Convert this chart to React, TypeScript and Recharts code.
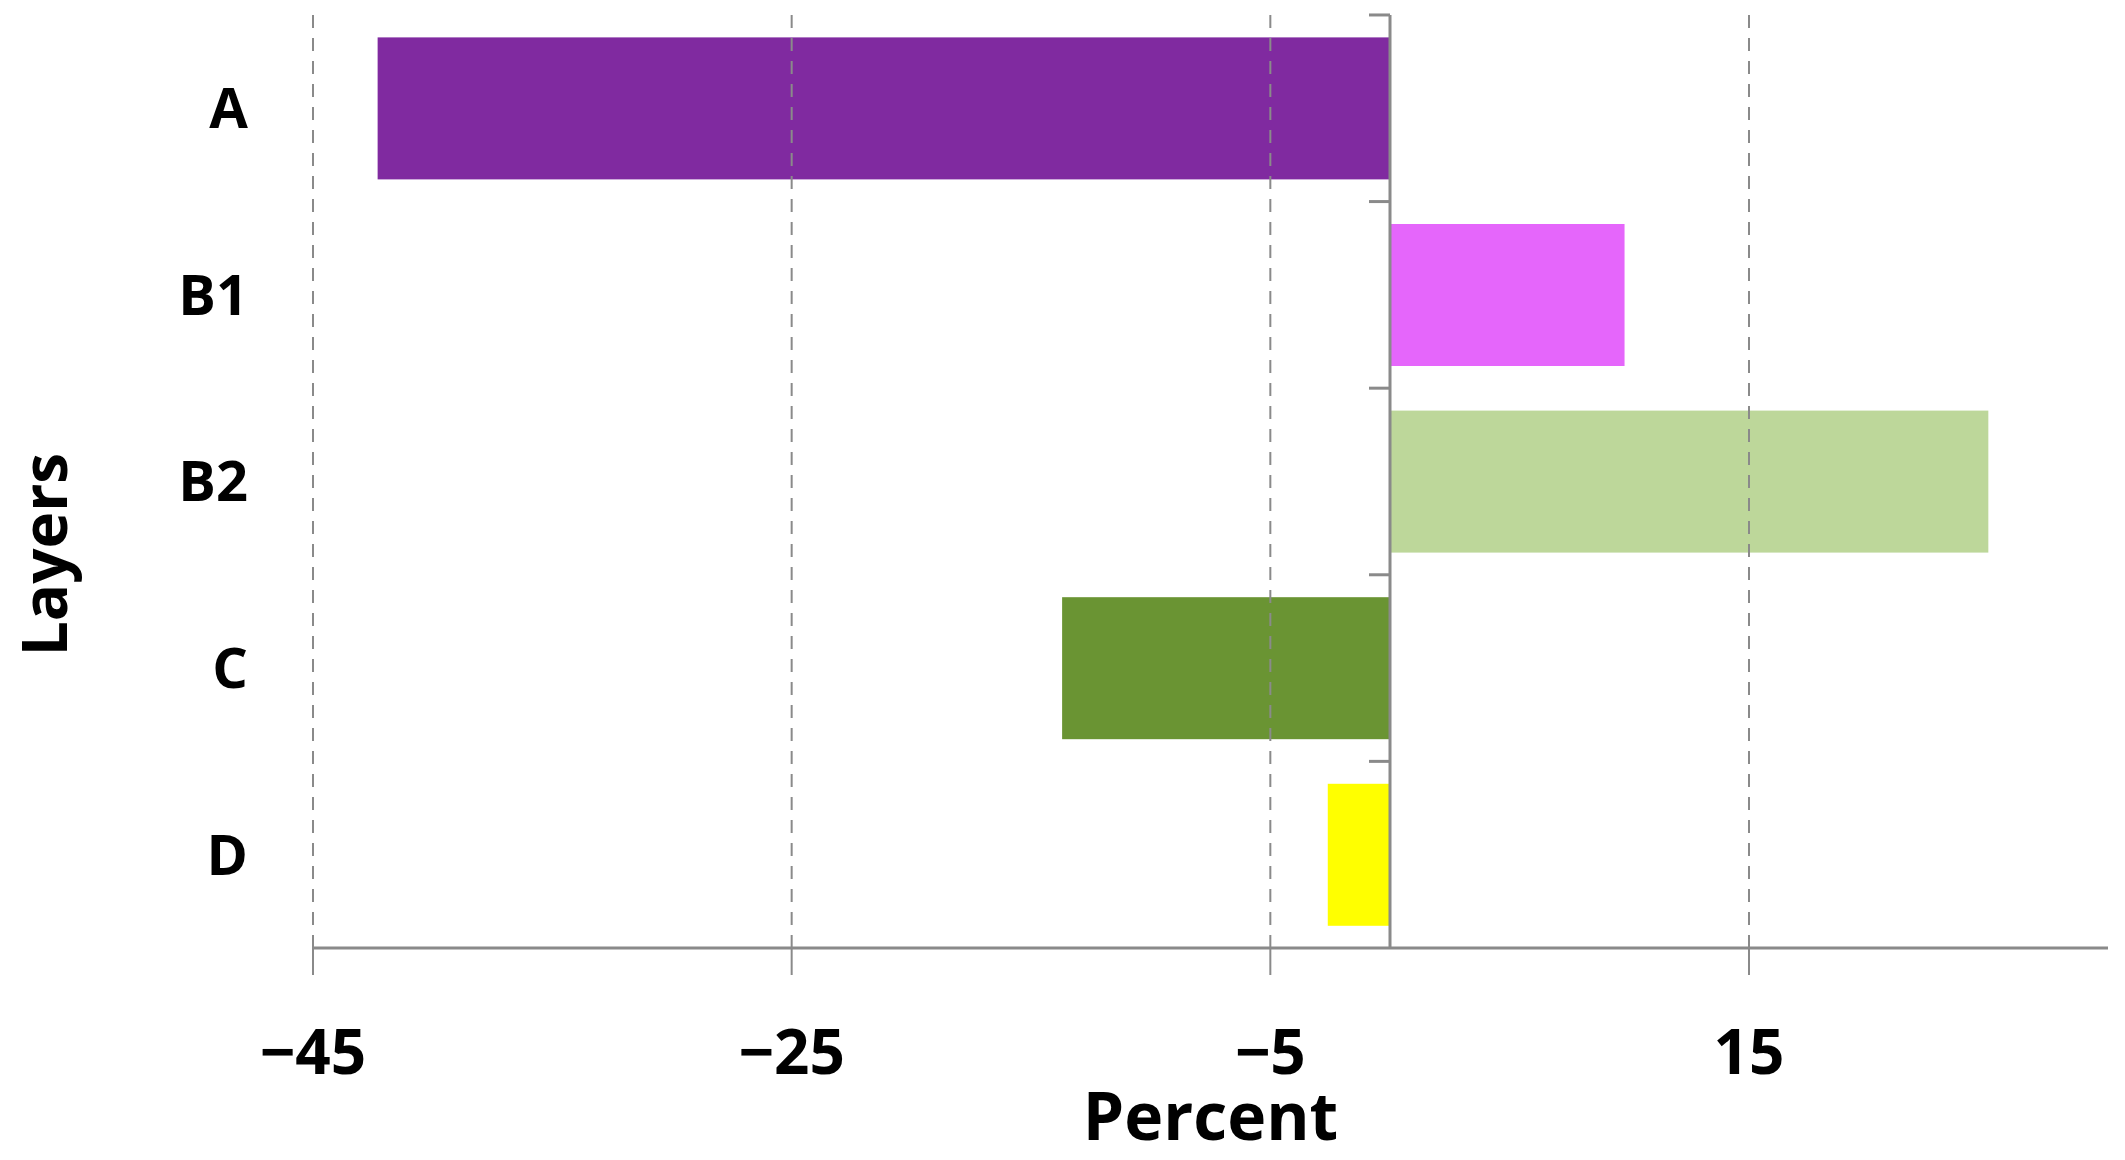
import React from "react";
import {
  BarChart,
  Bar,
  XAxis,
  YAxis,
  ReferenceLine,
  Label,
} from "recharts";

const LAYERS = ["A", "B1", "B2", "C", "D"];
const PERCENT = [-42.3, 9.8, 25.0, -13.7, -2.6];
const LAYER_COLORS = ["#802aa0", "#e566fb", "#bdd79a", "#6a9433", "#ffff00"];
const X_TICKS = [-45, -25, -5, 15];

const data = LAYERS.map((layer, i) => ({
  layer,
  value: PERCENT[i],
  fill: LAYER_COLORS[i],
}));

const FONT = "'Open Sans', Lato, sans-serif";
const AXIS_GREY = "#8a8a8a";

// bar plus the little tick on the zero axis at the top of its band
function LayerBar(props: any) {
  const { x, y, width, height, payload } = props;
  const left = Math.min(x, x + width);
  const w = Math.abs(width);
  const zeroX = payload.value >= 0 ? left : left + w;
  const gap = (height * 0.12) / 0.76;
  return (
    <g>
      <rect x={left} y={y} width={w} height={height} fill={payload.fill} />
      <line
        x1={zeroX - 21}
        x2={zeroX}
        y1={y - gap}
        y2={y - gap}
        stroke={AXIS_GREY}
        strokeWidth={3}
      />
    </g>
  );
}

function LayersLabel(props: any) {
  const vb = props.viewBox || { x: 0, y: 7, width: 305, height: 933 };
  const cx = vb.x + 59;
  const cy = vb.y + vb.height / 2 + 73;
  return (
    <text
      x={cx}
      y={cy}
      transform={`rotate(-90, ${cx}, ${cy})`}
      textAnchor="middle"
      fontFamily={FONT}
      fontWeight={700}
      fontSize={62}
      fill="#000"
    >
      Layers
    </text>
  );
}

export default function App() {
  return (
    <div style={{ fontFamily: FONT }}>
      <BarChart
        width={2109}
        height={1150}
        data={data}
        layout="vertical"
        margin={{ top: 7, right: 9, left: 0, bottom: 0 }}
        barCategoryGap="12%"
      >
        {/* dashed grid only at the labelled ticks */}
        {X_TICKS.map((t) => (
          <ReferenceLine
            key={t}
            x={t}
            stroke={AXIS_GREY}
            strokeWidth={2}
            strokeDasharray="13 10"
          />
        ))}
        <XAxis
          type="number"
          domain={[-45, 30]}
          ticks={X_TICKS}
          height={210}
          axisLine={{ stroke: AXIS_GREY, strokeWidth: 3 }}
          tickLine={{ stroke: AXIS_GREY, strokeWidth: 2 }}
          tickSize={27}
          tickMargin={55}
          tick={{ fill: "#000", fontSize: 62, fontWeight: 700, fontFamily: FONT }}
          tickFormatter={(v: number) => (v < 0 ? `\u2212${Math.abs(v)}` : `${v}`)}
        >
          <Label
            value="Percent"
            position="insideBottom"
            offset={18}
            fill="#000"
            fontSize={66}
            fontWeight={700}
            fontFamily={FONT}
          />
        </XAxis>
        <YAxis
          type="category"
          dataKey="layer"
          width={305}
          axisLine={false}
          tickLine={false}
          tickSize={0}
          tickMargin={65}
          tick={{ fill: "#000", fontSize: 56, fontWeight: 700, fontFamily: FONT }}
        >
          <Label content={<LayersLabel />} />
        </YAxis>
        <Bar
          dataKey="value"
          shape={<LayerBar />}
          isAnimationActive={false}
        />
        <ReferenceLine x={0} stroke={AXIS_GREY} strokeWidth={3} />
      </BarChart>
    </div>
  );
}
